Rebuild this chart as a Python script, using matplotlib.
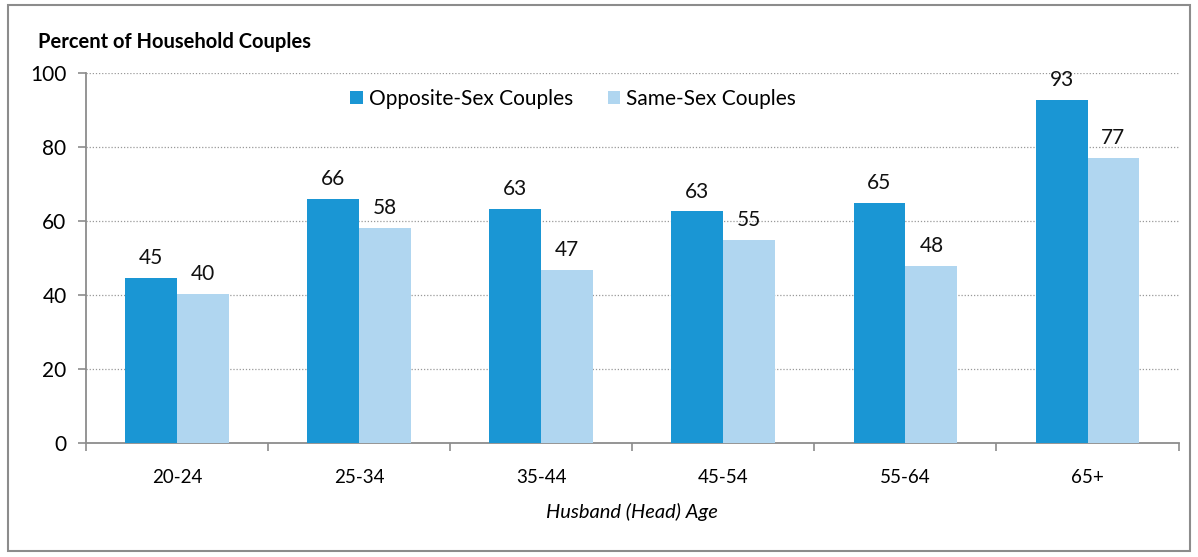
import numpy as np
from matplotlib import pyplot as plt
from matplotlib.patches import Rectangle

plt.rcParams['font.family'] = ['Lato', 'DejaVu Sans']

ages = ['20-24', '25-34', '35-44', '45-54', '55-64', '65+']
opposite = [44.7, 65.9, 63.3, 62.6, 64.8, 92.7]
same = [40.3, 58.1, 46.8, 54.8, 47.8, 77.0]
opp_labels = ['45', '66', '63', '63', '65', '93']
same_labels = ['40', '58', '47', '55', '48', '77']

c_opp = '#1a96d4'
c_same = '#b0d6f0'
grey = '#8c8c8c'


def main():
    fig = plt.figure(figsize=(11.98, 5.57), dpi=100)
    ax = fig.add_axes([0.0718, 0.2047, 0.912, 0.6643])

    x = np.arange(len(ages))
    w = 0.285
    b1 = ax.bar(x - w / 2, opposite, w, color=c_opp, label='Opposite-Sex Couples', zorder=3)
    b2 = ax.bar(x + w / 2, same, w, color=c_same, label='Same-Sex Couples', zorder=3)

    for bars, labs in ((b1, opp_labels), (b2, same_labels)):
        for r, t in zip(bars, labs):
            ax.annotate(t, (r.get_x() + r.get_width() / 2, r.get_height()),
                        xytext=(0, 7), textcoords='offset points',
                        ha='center', va='bottom', fontsize=15, color='#111111')

    ax.set_xlim(-0.5, len(ages) - 0.5)
    ax.set_ylim(0, 100)
    ax.set_yticks(range(0, 101, 20))
    ax.set_yticklabels([str(v) for v in range(0, 101, 20)], fontsize=15)
    ax.set_xticks(x)
    ax.set_xticklabels(ages, fontsize=13.5)
    ax.tick_params(axis='x', length=0, pad=19)
    ax.set_xticks(np.arange(-0.5, len(ages)), minor=True)
    ax.tick_params(axis='x', which='minor', length=6, color=grey, width=1.2)
    ax.tick_params(axis='y', length=6, color=grey, width=1.2, pad=8)

    for v in range(20, 101, 20):
        ax.axhline(v, color='#999999', linestyle=(0, (1, 1.5)), linewidth=0.9, zorder=1)

    for s in ('top', 'right'):
        ax.spines[s].set_visible(False)
    for s in ('left', 'bottom'):
        ax.spines[s].set_color(grey)
        ax.spines[s].set_linewidth(1.3)

    ax.set_xlabel('Husband (Head) Age', fontsize=14.5, fontstyle='italic', labelpad=12)

    fig.text(38 / 1198, 1 - 42 / 557, 'Percent of Household Couples',
             fontsize=14.5, fontweight='bold', va='center', ha='left')

    ax.legend(loc='center', bbox_to_anchor=(0.446, 0.93), ncol=2, frameon=False,
              fontsize=15, handlelength=0.6, handleheight=0.6,
              handletextpad=0.3, columnspacing=1.65)

    fig.patches.append(Rectangle((8 / 1198, 1 - 551 / 557), 1182 / 1198, 546 / 557,
                                 transform=fig.transFigure, fill=False,
                                 edgecolor='#8c8c8c', linewidth=1.5))

    fig.savefig('out.png', dpi=100)


if __name__ == "__main__":
    main()
